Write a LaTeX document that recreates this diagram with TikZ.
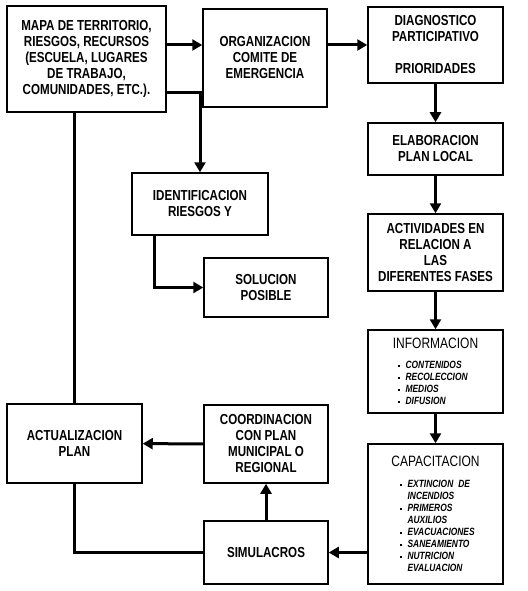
\documentclass[tikz,border=0pt]{standalone}
\usepackage{fontspec}
\setmainfont{Liberation Sans}[FakeStretch=0.8]
\usepackage{tikz}
\usetikzlibrary{arrows.meta,positioning}
\newcommand{\vi}{\rule[1.5pt]{1.6pt}{2.4pt}\hspace{6pt}}
\newcommand{\sinvi}{\hspace*{7.6pt}}
\newcommand{\letralista}{\usefont{TU}{\rmdefault}{b}{it}\fontsize{10.5}{12}\selectfont}

\begin{document}
\begin{tikzpicture}[
  x=1pt,y=-1pt,
  font=\fontsize{14.5}{16}\selectfont\bfseries,
  caja/.style={draw,line width=1.5pt,inner sep=0pt,align=center},
  lista/.style={caja,align=left,font=\fontsize{15}{17}\selectfont},
  arr/.style={-{Triangle[length=10pt,width=11pt]},line width=3pt},
  linea/.style={line width=3pt}
]
  \useasboundingbox (0,0) rectangle (527,591);

  \node[caja,minimum width=159pt,minimum height=106pt] (mapa) at (86.5,59)
    {MAPA DE TERRITORIO,\\RIESGOS, RECURSOS\\(ESCUELA, LUGARES\\DE TRABAJO,\\COMUNIDADES, ETC.).};
  \node[caja,minimum width=124pt,minimum height=98pt] (orga) at (265,58)
    {ORGANIZACION\\COMITE DE\\EMERGENCIA};
  \node[caja,minimum width=135pt,minimum height=76pt] (diag) at (435.5,45)
    {DIAGNOSTICO\\PARTICIPATIVO\\[16pt]PRIORIDADES};
  \node[caja,minimum width=135pt,minimum height=52pt] (elab) at (435.5,149)
    {ELABORACION\\PLAN LOCAL};
  \node[caja,minimum width=135pt,minimum height=77pt] (acti) at (435.5,252.5)
    {ACTIVIDADES EN\\RELACION A\\LAS\\DIFERENTES FASES};
  \node[lista,text width=135pt,minimum height=83pt] (info) at (435.5,371.5)
    {\makebox[135pt][c]{INFORMACION}\\[3pt]
     \parbox[t]{135pt}{\letralista
       \hspace*{30pt}\vi CONTENIDOS\\
       \hspace*{30pt}\vi RECOLECCION\\
       \hspace*{30pt}\vi MEDIOS\\
       \hspace*{30pt}\vi DIFUSION}};
  \node[lista,text width=135pt,minimum height=140pt] (capa) at (435.5,514)
    {\makebox[135pt][c]{CAPACITACION}\\[4pt]
     \parbox[t]{135pt}{\letralista
       \hspace*{32pt}\vi EXTINCION DE\\
       \hspace*{32pt}\sinvi INCENDIOS\\
       \hspace*{32pt}\vi PRIMEROS\\
       \hspace*{32pt}\sinvi AUXILIOS\\
       \hspace*{32pt}\vi EVACUACIONES\\
       \hspace*{32pt}\vi SANEAMIENTO\\
       \hspace*{32pt}\vi NUTRICION\\
       \hspace*{32pt}\sinvi EVALUACION}};
  \node[caja,minimum width=136pt,minimum height=62pt] (iden) at (200,204)
    {IDENTIFICACION\\RIESGOS Y};
  \node[caja,minimum width=124pt,minimum height=59pt] (solu) at (266,287.5)
    {SOLUCION\\POSIBLE};
  \node[caja,minimum width=135pt,minimum height=79pt] (actu) at (74.5,443.5)
    {ACTUALIZACION\\PLAN};
  \node[caja,minimum width=124pt,minimum height=78pt] (coor) at (266,444)
    {COORDINACION\\CON PLAN\\MUNICIPAL O\\REGIONAL};
  \node[caja,minimum width=124pt,minimum height=63pt] (simu) at (266,552.5)
    {SIMULACROS};

  \draw[arr] (mapa.east |- diag) -- (orga.west |- diag);
  \draw[arr] (orga.east |- diag) -- (diag.west);
  \draw[arr] (diag) -- (elab);
  \draw[arr] (elab) -- (acti);
  \draw[arr] (acti) -- (info);
  \draw[arr] (info) -- (capa);
  \draw[arr] ([yshift=-34pt]mapa.east) -| (iden.north);
  \draw[arr] ([xshift=-46pt]iden.south) |- (solu.west);
  \draw[arr] (capa.west |- simu) -- (simu.east);
  \draw[arr] (simu) -- (coor);
  \draw[arr] (coor) -- (actu);
  \draw[linea] (simu.west) -| (actu.south);
  \draw[linea] (actu.north) -- (actu.north |- mapa.south);
\end{tikzpicture}
\end{document}
